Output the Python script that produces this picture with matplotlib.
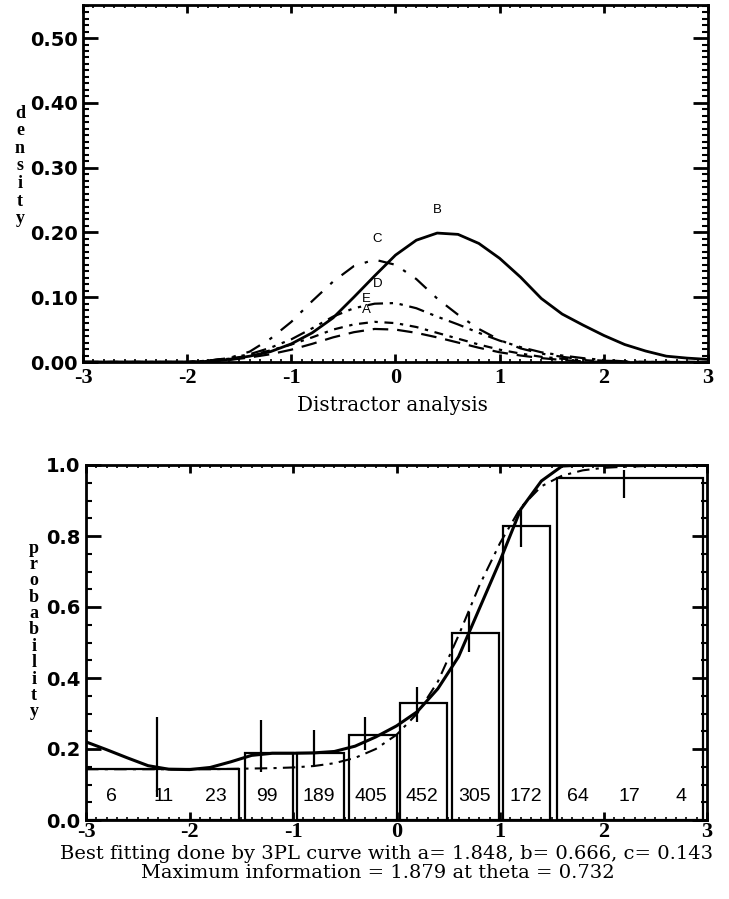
import matplotlib
matplotlib.use("Agg")
import matplotlib.pyplot as plt
from matplotlib.ticker import MultipleLocator, FormatStrFormatter

# ---------------- data ----------------
theta = [-3.0, -2.8, -2.6, -2.4, -2.2, -2.0, -1.8, -1.6, -1.4, -1.2, -1.0,
         -0.8, -0.6, -0.4, -0.2, 0.0, 0.2, 0.4, 0.6, 0.8, 1.0,
         1.2, 1.4, 1.6, 1.8, 2.0, 2.2, 2.4, 2.6, 2.8, 3.0]

dens_B = [0, 0, 0, 0, 0, 0.0, 0.001, 0.004, 0.009, 0.016, 0.028,
          0.045, 0.068, 0.100, 0.133, 0.165, 0.188, 0.199, 0.197, 0.183, 0.160,
          0.131, 0.098, 0.074, 0.057, 0.041, 0.027, 0.017, 0.009, 0.006, 0.004]
dens_C = [0, 0, 0, 0, 0, 0.0, 0.002, 0.006, 0.016, 0.036, 0.062,
          0.094, 0.124, 0.148, 0.158, 0.150, 0.128, 0.098, 0.073, 0.051, 0.034,
          0.021, 0.013, 0.008, 0.004, 0.002, 0.001, 0, 0, 0, 0]
dens_D = [0, 0, 0, 0, 0, 0.0, 0.002, 0.006, 0.012, 0.022, 0.035,
          0.052, 0.070, 0.083, 0.090, 0.091, 0.083, 0.070, 0.058, 0.045, 0.033,
          0.023, 0.015, 0.010, 0.006, 0.003, 0.001, 0, 0, 0, 0]
dens_E = [0, 0, 0, 0, 0, 0.0, 0.002, 0.005, 0.010, 0.018, 0.027,
          0.038, 0.050, 0.058, 0.062, 0.060, 0.054, 0.045, 0.036, 0.027, 0.019,
          0.013, 0.008, 0.005, 0.003, 0.001, 0, 0, 0, 0, 0]
dens_A = [0, 0, 0, 0, 0, 0.0, 0.001, 0.003, 0.007, 0.012, 0.019,
          0.028, 0.038, 0.046, 0.051, 0.050, 0.045, 0.038, 0.030, 0.022, 0.015,
          0.010, 0.006, 0.003, 0.001, 0, 0, 0, 0, 0, 0]

option_names = ["B", "C", "D", "E", "A"]
option_label_x = [0.40, -0.18, -0.17, -0.28, -0.28]
option_label_y = [0.234, 0.190, 0.121, 0.097, 0.080]

prob_smooth = [0.220, 0.198, 0.175, 0.153, 0.143, 0.142, 0.148, 0.164, 0.182, 0.188, 0.188,
               0.189, 0.193, 0.208, 0.234, 0.265, 0.305, 0.370, 0.460, 0.595, 0.730,
               0.875, 0.955, 0.997, 1.0, 1.0, 1.0, 1.0, 1.0, 1.0, 1.0]
prob_3pl = [0.143, 0.143, 0.143, 0.143, 0.143, 0.143, 0.143, 0.144, 0.145, 0.146, 0.148,
            0.152, 0.160, 0.175, 0.200, 0.240, 0.300, 0.390, 0.520, 0.660, 0.780,
            0.880, 0.940, 0.970, 0.985, 0.992, 0.995, 0.997, 0.998, 0.999, 0.999]

bar_left = [-3.0, -1.46, -0.96, -0.455, 0.035, 0.54, 1.03, 1.55]
bar_right = [-1.52, -1.0, -0.51, 0.0, 0.485, 0.99, 1.48, 2.96]
bar_height = [0.144, 0.190, 0.188, 0.240, 0.330, 0.526, 0.829, 0.962]

err_x = [-2.31, -1.31, -0.80, -0.30, 0.20, 0.70, 1.20, 2.20]
err_lo = [0.065, 0.136, 0.150, 0.197, 0.277, 0.474, 0.770, 0.906]
err_hi = [0.291, 0.282, 0.254, 0.291, 0.375, 0.587, 0.873, 0.986]

group_x = [-2.75, -2.25, -1.75, -1.25, -0.75, -0.25, 0.25, 0.75, 1.25, 1.75, 2.25, 2.75]
group_n = [6, 11, 23, 99, 189, 405, 452, 305, 172, 64, 17, 4]

xticks = [-3, -2, -1, 0, 1, 2, 3]
caption1 = "Best fitting done by 3PL curve with a= 1.848, b= 0.666, c= 0.143"
caption2 = "Maximum information = 1.879 at theta = 0.732"

# ---------------- figure ----------------
W, H = 729, 899
fig = plt.figure(figsize=(W / 100, H / 100), dpi=100)

def px_axes(l, t, r, b):
    return [l / W, 1 - b / H, (r - l) / W, (b - t) / H]

ax1 = fig.add_axes(px_axes(83, 5, 708, 362))
ax2 = fig.add_axes(px_axes(86, 465, 707, 820))

serif = "Liberation Serif"
wserif = "DejaVu Serif"
sans = "DejaVu Sans"

def style(ax, ymaj, ymin, yfmt, xpad):
    for s in ax.spines.values():
        s.set_linewidth(2.0)
    ax.set_xlim(-3, 3)
    ax.set_xticks(xticks)
    ax.set_xticklabels([str(v) for v in xticks])
    ax.xaxis.set_minor_locator(MultipleLocator(0.1))
    ax.yaxis.set_major_locator(MultipleLocator(ymaj))
    ax.yaxis.set_minor_locator(MultipleLocator(ymin))
    ax.yaxis.set_major_formatter(FormatStrFormatter(yfmt))
    ax.tick_params(which="both", direction="in", top=True, right=True, color="black")
    ax.tick_params(axis="y", which="major", length=11, width=2, pad=4)
    ax.tick_params(axis="y", which="minor", length=4, width=1.5)
    ax.tick_params(axis="x", which="major", length=6, width=2, pad=xpad)
    ax.tick_params(axis="x", which="minor", length=2.5, width=1.2)
    for lab in ax.get_yticklabels():
        lab.set_fontfamily(sans)
        lab.set_fontweight("bold")
        lab.set_fontsize(14)
    for lab in ax.get_xticklabels():
        lab.set_fontfamily(serif)
        lab.set_fontweight("bold")
        lab.set_fontsize(16)

# ---- top panel ----
ax1.set_ylim(0, 0.551)
ax1.plot(theta, dens_B, color="black", lw=2.0, ls="-")
ax1.plot(theta, dens_C, color="black", lw=1.6, ls=(0, (7, 5, 1.5, 5)))
ax1.plot(theta, dens_D, color="black", lw=1.6, ls=(0, (7, 3, 1.5, 3, 1.5, 3)))
ax1.plot(theta, dens_E, color="black", lw=1.6, ls=(0, (4, 3, 1.5, 3)))
ax1.plot(theta, dens_A, color="black", lw=1.6, ls=(0, (7, 4)))
for name, lx, ly in zip(option_names, option_label_x, option_label_y):
    ax1.text(lx, ly, name, fontsize=9.5, family="Liberation Sans",
             ha="center", va="center")
style(ax1, 0.1, 0.01, "%.2f", 4)
fig.text(392 / W, 1 - 411 / H, "Distractor analysis", family=wserif,
         fontsize=14.3, ha="center", va="baseline")
fig.text(20 / W, 1 - 166 / H, "\n".join("density"), family=serif,
         fontweight="bold", fontsize=13, ha="center", va="center",
         linespacing=1.05)

# ---- bottom panel ----
ax2.set_ylim(0, 1.0)
ax2.bar(bar_left, bar_height,
        width=[r - l for l, r in zip(bar_left, bar_right)],
        align="edge", fill=False, edgecolor="black", linewidth=1.6)
ax2.vlines(err_x, err_lo, err_hi, color="black", lw=1.6)
ax2.plot(theta, prob_3pl, color="black", lw=1.5, ls=(0, (6, 3, 1.5, 3)))
ax2.plot(theta, prob_smooth, color="black", lw=2.2, ls="-")
for gx, gn in zip(group_x, group_n):
    ax2.text(gx, 0.065, str(gn), fontsize=14, family="Liberation Sans",
             ha="center", va="center")
style(ax2, 0.2, 0.05, "%.1f", 1.5)
fig.text(34 / W, 1 - 630 / H, "\n".join("probability"), family=serif,
         fontweight="bold", fontsize=13, ha="center", va="center",
         linespacing=0.95)
fig.text(387 / W, 1 - 859 / H, caption1, family=wserif, fontsize=14.0,
         ha="center", va="baseline")
fig.text(378 / W, 1 - 878 / H, caption2, family=wserif, fontsize=14.0,
         ha="center", va="baseline")

fig.savefig("out.png", dpi=100)
